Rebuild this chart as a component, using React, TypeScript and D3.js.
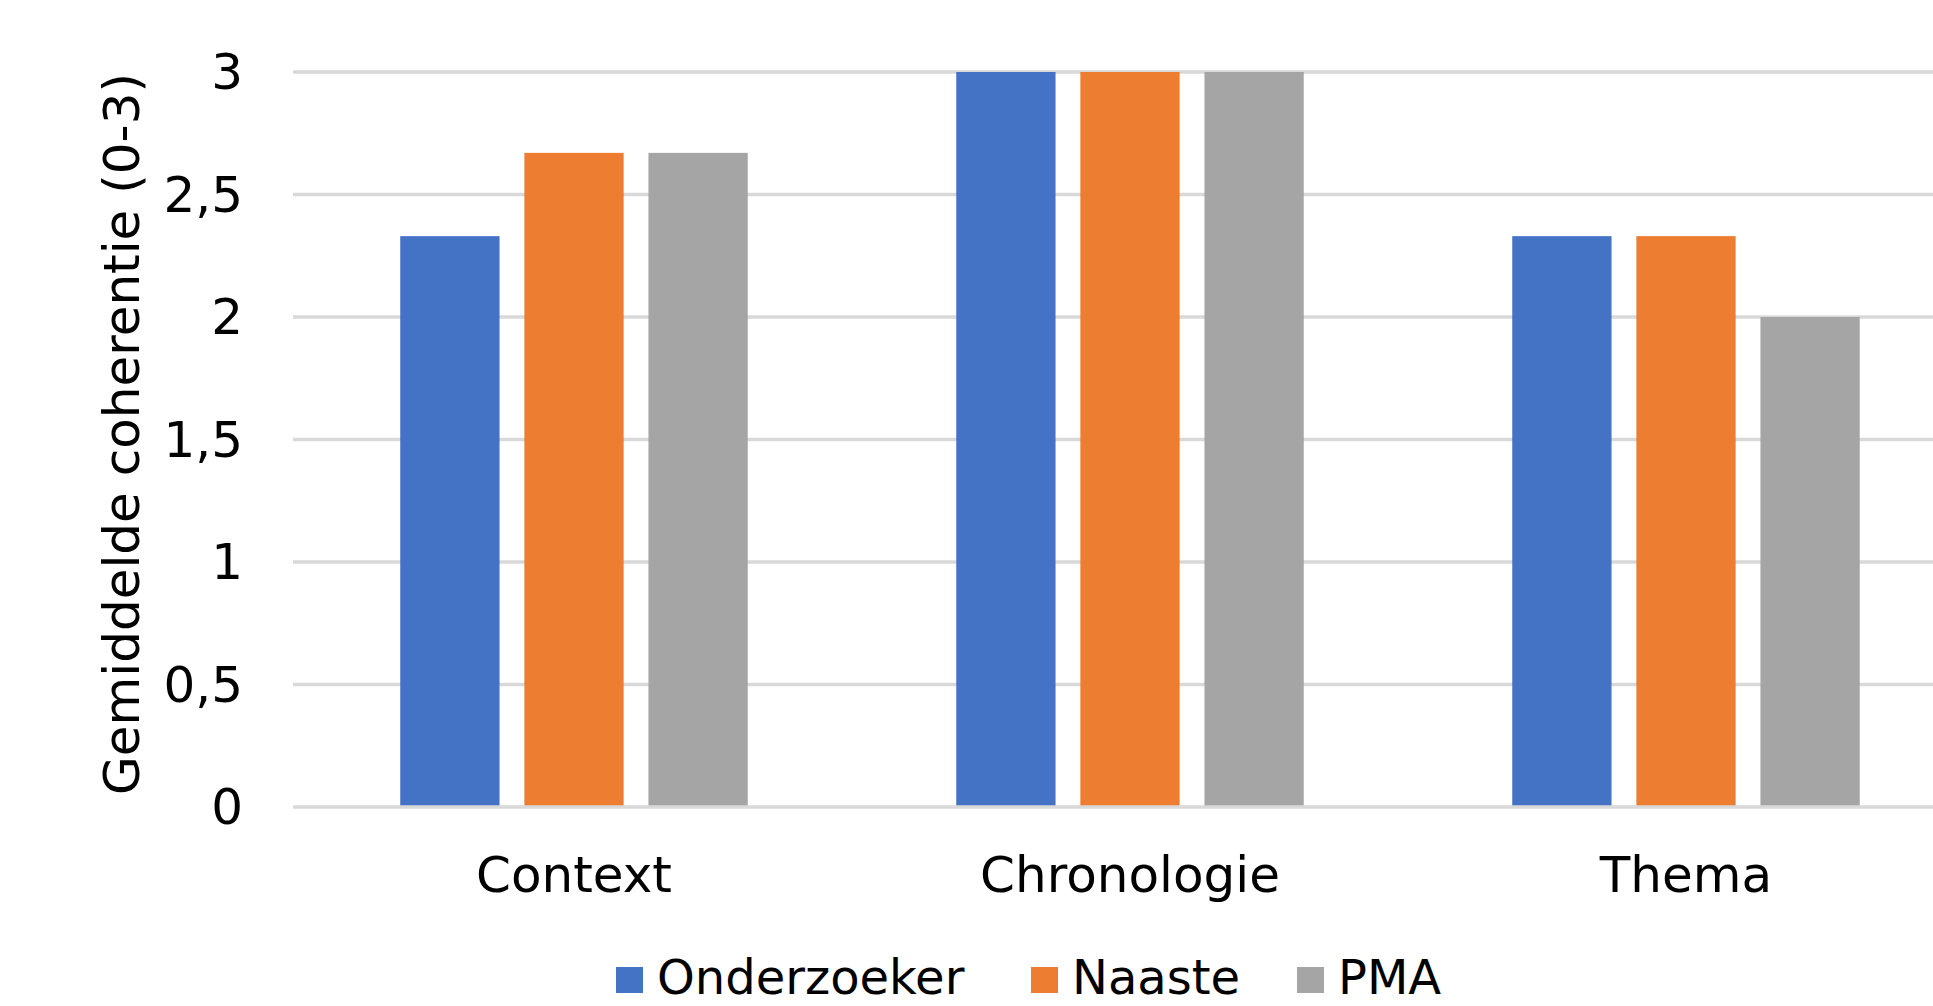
import { useEffect, useRef } from 'react'
import * as d3 from 'd3'

// gegevens
const categories = ['Context', 'Chronologie', 'Thema']
const seriesNames = ['Onderzoeker', 'Naaste', 'PMA']
const onderzoeker = [2.33, 3, 2.33]
const naaste = [2.67, 3, 2.33]
const pma = [2.67, 3, 2]
const yTicks = [0, 0.5, 1, 1.5, 2, 2.5, 3]
const colors = ['#4472C4', '#ED7D31', '#A5A5A5']

const W = 1933
const H = 1006
const FONT = '"DejaVu Sans", Verdana, sans-serif'

export default function App() {
  const svgRef = useRef<SVGSVGElement>(null)

  useEffect(() => {
    const svg = d3.select(svgRef.current)
    svg.selectAll('*').remove()

    const values = [onderzoeker, naaste, pma]

    const x0 = d3.scaleBand<string>().domain(categories).range([296, 1964]).padding(0)
    const y = d3.scaleLinear().domain([0, 3]).range([807, 72])

    // groepsbreedte: 3 staven + 2 tussenruimtes (overlap -25%, gap ~210%)
    const barW = x0.bandwidth() / 5.6
    const groupW = barW * 3 + barW * 0.25 * 2
    const x1 = d3.scaleBand<string>().domain(seriesNames)
      .range([0, groupW]).paddingInner(0.25 / 1.25).paddingOuter(0)

    // ── rasterlijnen ──
    svg.append('g').selectAll('line')
      .data(yTicks.filter((t) => t > 0))
      .join('line')
      .attr('x1', 293).attr('x2', W)
      .attr('y1', (d) => y(d)).attr('y2', (d) => y(d))
      .attr('stroke', '#D9D9D9').attr('stroke-width', 3.5)

    // ── staven ──
    categories.forEach((cat, ci) => {
      const gx = (x0(cat) ?? 0) + (x0.bandwidth() - groupW) / 2
      seriesNames.forEach((s, si) => {
        const v = values[si][ci]
        svg.append('rect')
          .attr('x', gx + (x1(s) ?? 0))
          .attr('y', y(v))
          .attr('width', x1.bandwidth())
          .attr('height', y(0) - y(v))
          .attr('fill', colors[si])
      })
    })

    // ── nul-as ──
    svg.append('line')
      .attr('x1', 293).attr('x2', W)
      .attr('y1', y(0)).attr('y2', y(0))
      .attr('stroke', '#D9D9D9').attr('stroke-width', 3.5)

    // ── y-as labels ──
    svg.append('g').selectAll('text')
      .data(yTicks)
      .join('text')
      .attr('x', 243).attr('y', (d) => y(d) + 17)
      .attr('text-anchor', 'end')
      .attr('font-family', FONT).attr('font-size', 50).attr('fill', '#000')
      .text((d) => String(d).replace('.', ','))

    // ── categorie labels ──
    svg.append('g').selectAll('text')
      .data(categories)
      .join('text')
      .attr('x', (d) => (x0(d) ?? 0) + x0.bandwidth() / 2)
      .attr('y', 892)
      .attr('text-anchor', 'middle')
      .attr('font-family', FONT).attr('font-size', 50).attr('fill', '#000')
      .text((d) => d)

    // ── y-as titel ──
    svg.append('text')
      .attr('transform', 'translate(139,434) rotate(-90)')
      .attr('text-anchor', 'middle')
      .attr('font-family', FONT).attr('font-size', 50).attr('fill', '#000')
      .text('Gemiddelde coherentie (0-3)')

    // ── legenda ──
    const legX = [616, 1031, 1297]
    seriesNames.forEach((s, i) => {
      svg.append('rect')
        .attr('x', legX[i]).attr('y', 967)
        .attr('width', 27).attr('height', 26)
        .attr('fill', colors[i])
      svg.append('text')
        .attr('x', legX[i] + 41).attr('y', 994)
        .attr('font-family', FONT).attr('font-size', 48).attr('fill', '#000')
        .text(s)
    })
  }, [])

  return (
    <div style={{ position: 'absolute', left: 0, top: 0 }}>
      <svg ref={svgRef} width={W} height={H} viewBox={`0 0 ${W} ${H}`} style={{ display: 'block', background: '#fff' }} />
    </div>
  )
}
